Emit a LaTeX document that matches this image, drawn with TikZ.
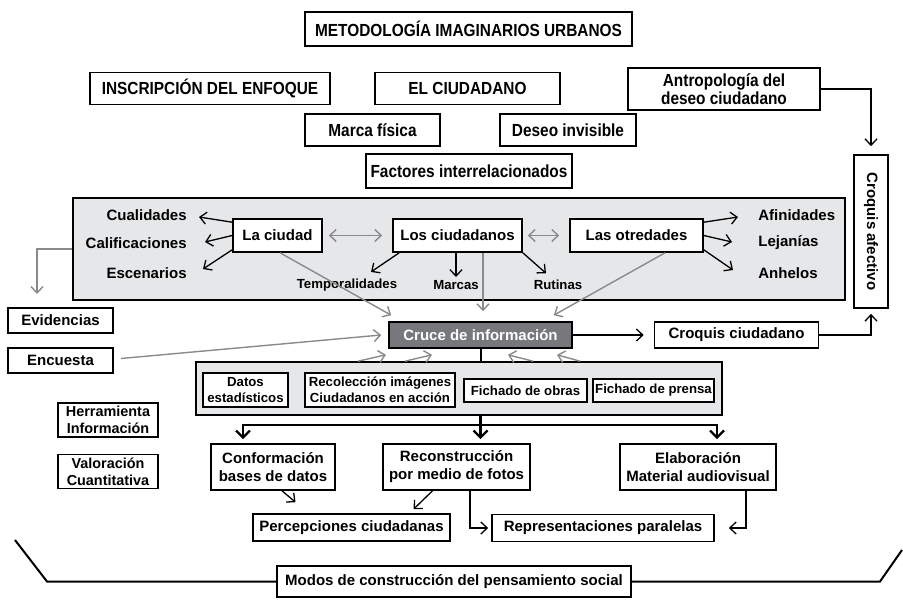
\documentclass[tikz,border=0pt]{standalone}
\usepackage{fontspec}
\setmainfont{Liberation Sans}
\newfontfamily\angosta[FakeStretch=0.88]{Liberation Sans}
\usetikzlibrary{arrows.meta, calc}
\definecolor{panelgris}{RGB}{230,231,232}
\definecolor{crucegris}{RGB}{119,120,123}
\definecolor{flechagris}{RGB}{138,138,140}
\newcommand\letragrande{\bfseries\fontsize{7.5}{9}\selectfont}
\newcommand\letramedia{\bfseries\fontsize{7.2}{8.5}\selectfont}
\newcommand\letrachica{\bfseries\fontsize{6.6}{7.8}\selectfont}
\newcommand\letratitulo{\angosta\bfseries\fontsize{8.75}{8.8}\selectfont}

\tikzset{
  barba/.tip={Straight Barb[length=3.2pt,width=6pt]},
  barbagruesa/.tip={Straight Barb[length=3.5pt,width=7pt]},
  medida/.style 2 args={minimum width=#1*0.5pt, minimum height=#2*0.5pt},
  caja/.style={draw, fill=white, line width=0.8pt, inner sep=1pt, align=center, font=\letragrande},
  cajachica/.style={caja, font=\letrachica},
  titulo/.style={caja, font=\letratitulo},
  panel/.style={draw, fill=panelgris, line width=0.8pt},
  cruce/.style={caja, fill=crucegris, text=white},
  texto/.style={inner sep=0pt, font=\letragrande},
  chico/.style={inner sep=0pt, font=\letrachica},
  negra/.style={draw=black, line width=0.65pt, -barba},
  gris/.style={draw=flechagris, line width=0.7pt, -barba},
  gruesa/.style={draw=black, line width=1.2pt, -barbagruesa, shorten >=2pt},
  linea/.style={draw=black, line width=1pt},
}

\begin{document}
\begin{tikzpicture}[x=0.5pt, y=-0.5pt]
\useasboundingbox (0,0) rectangle (903,599);

\node[titulo, medida={327}{34}] (metodo) at (468.5,29) {METODOLOGÍA IMAGINARIOS URBANOS};
\node[titulo, medida={240}{32}] (enfoque) at (210,88.5) {INSCRIPCIÓN DEL ENFOQUE};
\node[titulo, medida={185}{32}] (ciudadano) at (467.5,88.5) {EL CIUDADANO};
\node[titulo, medida={192}{42}] (antropo) at (724,89) {Antropología del\\deseo ciudadano};
\node[titulo, medida={135}{32}] (marca) at (372.5,130) {Marca física};
\node[titulo, medida={136}{32}] (deseo) at (568,130) {Deseo invisible};
\node[titulo, medida={206}{34}] (factores) at (469,171) {Factores interrelacionados};
\node[caja, rotate=-90, medida={153}{34}] (afectivo) at (871,231.5) {Croquis afectivo};

\node[panel, medida={772}{102}] (panelA) at (459,249) {};
\node[caja, medida={89}{33}] (laciudad) at (277.5,235.5) {La ciudad};
\node[caja, medida={129}{33}] (losciud) at (457.5,235.5) {Los ciudadanos};
\node[caja, medida={133}{33}] (otredades) at (636.5,235.5) {Las otredades};
\node[texto, anchor=east] (cualidades) at (187,215) {Cualidades};
\node[texto, anchor=east] (califica) at (187,243) {Calificaciones};
\node[texto, anchor=east] (escenarios) at (187,273) {Escenarios};
\node[texto, anchor=west] (afinidades) at (758,215) {Afinidades};
\node[texto, anchor=west] (lejanias) at (758,243) {Lejanías};
\node[texto, anchor=west] (anhelos) at (758,273) {Anhelos};
\node[chico] (tempo) at (347,285) {Temporalidades};
\node[chico] (marcas) at (456,285) {Marcas};
\node[chico] (rutinas) at (558,285) {Rutinas};

\draw[negra] ($(laciudad.north west)+(0,4)$) -- ($(cualidades.east)+(12,2)$);
\draw[negra] (laciudad.west) -- ($(califica.east)+(18,-1)$);
\draw[negra] ($(laciudad.south west)+(0,-3)$) -- ($(escenarios.east)+(16,-4)$);
\draw[negra] ($(otredades.north east)+(0,4)$) -- ($(afinidades.west)+(-20,2)$);
\draw[negra] (otredades.east) -- ($(lejanias.west)+(-26,-1)$);
\draw[negra] ($(otredades.south east)+(0,-3)$) -- ($(anhelos.west)+(-25,-3)$);
\draw[gris, barba-barba, shorten <=3pt, shorten >=5pt] (laciudad.east) -- (losciud.west);
\draw[gris, barba-barba, shorten <=2.5pt, shorten >=5pt] (losciud.east) -- (otredades.west);
\draw[negra] ($(losciud.south west)+(7,0)$) -- ($(tempo.north)+(24,-6.5)$);
\draw[negra, shorten >=1.5pt] (losciud.south -| marcas.north) -- (marcas.north);
\draw[negra] (losciud.south east) -- ($(rutinas.north)+(-12,-6.5)$);

\node[caja, medida={105}{25}] (evidencias) at (60.5,320.5) {Evidencias};
\node[caja, medida={105}{25}] (encuesta) at (60.5,360.5) {Encuesta};
\node[cruce, medida={183}{26}] (cruce) at (480.5,335) {Cruce de información};
\node[caja, medida={164}{26}] (croquisc) at (736.5,335) {Croquis ciudadano};
\coordinate (evtip) at (37,294);

\draw[gris] (panelA.west) -| (evtip);
\draw[gris] ($(laciudad.south)+(2.5,0)$) -- ($(cruce.north west)+(3,-6)$);
\draw[gris] ($(losciud.south)+(25.5,0)$) -- ($(cruce.north)+(2.5,-10)$);
\draw[gris] ($(otredades.south)+(28.5,0)$) -- ($(cruce.north east)+(-19,-6)$);
\draw[gris] ($(encuesta.east)+(7,-2)$) -- ($(cruce.west)+(-7,0)$);
\draw[negra, shorten >=5pt] (cruce.east) -- (croquisc.west);
\draw[negra, shorten >=2.5pt] (croquisc.east) -| (afectivo.east);
\draw[negra, shorten >=4pt] (antropo.east) -| (afectivo.west);

\node[panel, medida={526}{53}] (panelB) at (459,388.5) {};
\node[cajachica, medida={85}{34}] (datos) at (245.5,390) {Datos\\estadísticos};
\node[cajachica, medida={150}{34}] (recolec) at (380,390) {Recolección imágenes\\Ciudadanos en acción};
\node[cajachica, medida={123}{23}] (obras) at (525.5,390.5) {Fichado de obras};
\node[cajachica, medida={121}{23}] (prensa) at (653.5,390.5) {Fichado de prensa};

\draw[line width=1pt] (cruce.south) -- (cruce.south |- panelB.north);
\draw[gris] ($(panelB.north)+(-101,0)$) -- ($(cruce.south)+(-94.5,6)$);
\draw[gris] ($(panelB.north)+(-54,0)$) -- ($(cruce.south)+(-48.5,6)$);
\draw[gris] ($(panelB.north)+(74,0)$) -- ($(cruce.south)+(27.5,6)$);
\draw[gris] ($(panelB.north)+(121,0)$) -- ($(cruce.south)+(76.5,6)$);

\node[caja, font=\letramedia, medida={100}{34}] (herram) at (108,420) {Herramienta\\Información};
\node[caja, font=\letramedia, medida={100}{34}] (valora) at (108,471.5) {Valoración\\Cuantitativa};

\node[caja, medida={124}{46}] (conform) at (273,467) {Conformación\\bases de datos};
\node[caja, medida={147}{46}] (recons) at (456.5,467) {Reconstrucción\\por medio de fotos};
\node[caja, medida={156}{46}] (elabora) at (698,467) {Elaboración\\Material audiovisual};
\node[caja, medida={197}{27}] (percep) at (351.5,527.5) {Percepciones ciudadanas};
\node[caja, medida={222}{27}] (repres) at (603,528) {Representaciones paralelas};
\coordinate (reparto) at (480.5,425);
\coordinate (ramaA) at (243,425);
\coordinate (ramaC) at (717,425);

\draw[gruesa] (cruce.south |- panelB.south) -- (reparto |- recons.north);
\draw[gruesa] (reparto) -| (ramaA |- conform.north);
\draw[gruesa] (reparto) -| (ramaC |- elabora.north);
\draw[negra] ($(conform.south)+(9,0)$) -- ($(percep.north)+(-56,-11)$);
\draw[negra] ($(recons.south)+(-24,0)$) -- ($(percep.north)+(62,-4)$);
\draw[negra, shorten >=1.5pt] ($(recons.south)+(13.5,0)$) |- (repres.west);
\draw[negra, shorten >=7pt] ($(elabora.south)+(48,0)$) |- (repres.east);

\node[caja, medida={354}{31}] (modos) at (454,581.5) {Modos de construcción del pensamiento social};
\coordinate (llaveI) at (15,540);
\coordinate (llaveD) at (902,550);
\draw[linea] (llaveI) -- (47,581.5) -- (modos.west);
\draw[linea] (modos.east) -- (880,581.5) -- (llaveD);
\end{tikzpicture}
\end{document}
